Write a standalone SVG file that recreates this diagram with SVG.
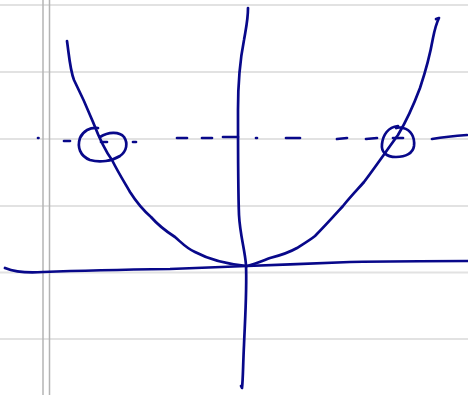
<svg xmlns="http://www.w3.org/2000/svg" width="468" height="395" viewBox="0 0 468 395">
<style>
.rule{stroke:#e2e2e2;stroke-width:2;fill:none}
.margin{stroke:#b4b4b4;stroke-width:1.5;fill:none}
.ink{stroke:#08088a;stroke-width:2.7;fill:none;stroke-linecap:round;stroke-linejoin:round}
</style>
<rect width="468" height="395" fill="#ffffff"/>
<g id="paper">
<line class="rule" x1="0" y1="5" x2="468" y2="5"/>
<line class="rule" x1="0" y1="72" x2="468" y2="72"/>
<line class="rule" x1="0" y1="139" x2="468" y2="139"/>
<line class="rule" x1="0" y1="206" x2="468" y2="206"/>
<line class="rule" x1="0" y1="272.5" x2="468" y2="272.5"/>
<line class="rule" x1="0" y1="339" x2="468" y2="339"/>
<line class="margin" x1="43" y1="0" x2="43" y2="395"/>
<line class="margin" x1="49.5" y1="0" x2="49.5" y2="395"/>
</g>
<g id="axes">
<path id="x-axis" class="ink" d="M5,268 C15,272 30,273 43,272 C70,271 100,270 170,269 C200,268 225,267 247,266 C280,265 320,263 350,262 C400,261 440,261 468,261"/>
<path id="y-axis" class="ink" d="M248,8 C248,20 246,28 244,40 C240,60 238,80 238,110 C238,150 238,190 239,215 C240,235 245,250 246,265 C247,290 245,320 244,345 C243,365 243,380 242,388 L241,386"/>
</g>
<g id="parabola">
<path class="ink" d="M67,41 C69,55 70,70 74,80 C80,92 86,105 93,122 C100,140 106,152 112,160 C118,172 123,180 130,192 C137,203 143,210 151,217 C158,225 164,230 175,237 C182,243 186,248 195,252 C210,260 225,264 247,266 C255,264 262,261 270,258 C282,255 290,252 297,248 C305,243 310,240 315,236 C325,226 333,217 343,206 C352,195 358,189 364,182 C376,166 387,150 398,135 C407,120 414,104 420,88 C426,70 430,55 433,38 C435,28 437,22 439,18 L436,19"/>
</g>
<g id="dashed-line">
<path class="ink" d="M38,138 L38.5,138 M64,141 L70,141 M101,142 L107,142 M133,142 L136,142 M177,138 L187,138 M202,138 L212,138 M223,137 L238,137 M256,138 L257,138 M286,138 L300,138 M337,139 L347,138 M366,139 L377,138 M393,138 L403,138 M432,139 C445,137 455,136 467,135"/>
</g>
<g id="left-circle">
<path class="ink" d="M98,128 C90,127 83,131 80,138 C77,147 80,156 90,160 C100,163 112,161 120,156 C127,151 128,143 124,137 C119,131 108,132 100,137"/>
</g>
<g id="right-circle">
<path class="ink" d="M398,126 C388,127 383,135 382,144 C381,152 386,157 396,157 C406,157 413,153 414,146 C415,137 411,130 403,128 C400,127 398,127 396,128"/>
</g>
</svg>
